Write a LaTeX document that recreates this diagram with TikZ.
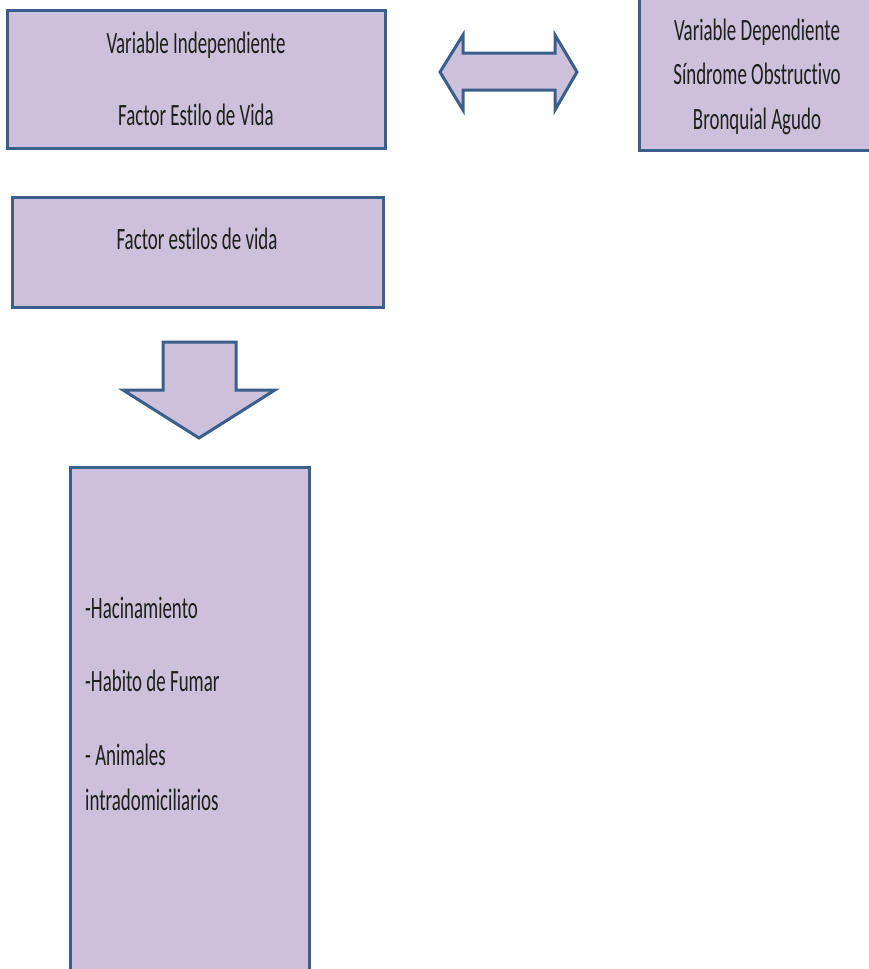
\documentclass[tikz,border=0pt]{standalone}
\usepackage{fontspec}
\setmainfont{Carlito}[FakeStretch=0.61,RawFeature={-liga;-clig;-calt;-dlig}]
\definecolor{boxfill}{HTML}{CCC0DA}
\definecolor{boxline}{HTML}{3A5F8C}
\definecolor{txt}{HTML}{1E1E1E}
\begin{document}
\begin{tikzpicture}[x=1pt,y=-1pt,
  box/.style={draw=boxline,fill=boxfill,line width=3pt},
  lbl/.style={anchor=base,inner sep=0pt,text=txt,font=\fontsize{31}{37}\selectfont},
  lbll/.style={anchor=base west,inner sep=0pt,text=txt,font=\fontsize{31}{37}\selectfont}]
\useasboundingbox (0,0) rectangle (869,969);
% boxes
\draw[box] (7,10) rectangle (385,148);
\coordinate (b1) at (196,79);
\draw[box] (639,-10) rectangle (880,150);
\coordinate (b2) at (757,70);
\draw[box] (12,197) rectangle (383,307);
\coordinate (b3) at (197,252);
\draw[box] (70,467) rectangle (309,985);
% double arrow
\draw[box,line join=miter] (440,72) -- (463,35) -- (463,53) -- (555,53) -- (555,35) -- (577,72)
  -- (555,110) -- (555,90) -- (463,90) -- (463,110) -- cycle;
% down arrow
\draw[box,line join=miter] (163,342) -- (236,342) -- (236,390) -- (275,390) -- (199,438)
  -- (123,390) -- (163,390) -- cycle;
% texts
\node[lbl] (t1) at (196,53) {Variable Independiente};
\node[lbl] (t2) at (196,125) {Factor Est\kern0pt ilo de Vida};
\node[lbl] (t3) at (757,40) {Variable Dependiente};
\node[lbl] (t4) at (757,84) {Síndrome Obstruct\kern0pt ivo};
\node[lbl] (t5) at (757,129) {Bronquial Agudo};
\node[lbl] (t6) at (197,249) {Factor est\kern0pt ilos de vida};
\node[lbll] (t7) at (85,618) {-Hacinamiento};
\node[lbll] (t8) at (85,691) {-Habito de Fumar};
\node[lbll] (t9) at (85,765) {- Animales};
\node[lbll] (t10) at (85,810) {intradomiciliarios};
\end{tikzpicture}
\end{document}
